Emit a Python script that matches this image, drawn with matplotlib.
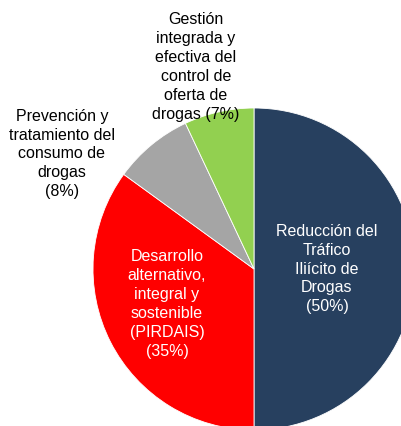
import matplotlib.pyplot as plt

plt.rcParams['font.family'] = ['Liberation Sans', 'DejaVu Sans']

labels = [
    "Reducción del\nTráfico\nIliícito de\nDrogas\n(50%)",
    "Desarrollo\nalternativo,\nintegral y\nsostenible\n(PIRDAIS)\n(35%)",
    "Prevención y\ntratamiento del\nconsumo de\ndrogas\n(8%)",
    "Gestión\nintegrada y\nefectiva del\ncontrol de\noferta de\ndrogas (7%)",
]
values = [50, 35, 8, 7]
colors = ["#27405F", "#FF0000", "#A5A5A5", "#92D050"]
text_colors = ["white", "white", "black", "black"]
# label centres in pixel coords (y from top)
label_pos = [(327, 269), (167, 304), (62, 154), (196, 67)]

W, H = 401, 426
fig = plt.figure(figsize=(W / 100, H / 100), dpi=100)
ax = fig.add_axes([0, 0, 1, 1])

ax.pie(values, colors=colors, startangle=90, counterclock=False,
       center=(254, H - 269), radius=161,
       wedgeprops=dict(edgecolor="white", linewidth=0.6))

for lab, (x, y), c in zip(labels, label_pos, text_colors):
    ax.text(x, H - y, lab, ha="center", va="center", color=c,
            fontsize=11.5, linespacing=1.32)

ax.set_xlim(0, W)
ax.set_ylim(0, H)
ax.set_aspect("auto")
ax.axis("off")

fig.savefig("out.png", dpi=100)
